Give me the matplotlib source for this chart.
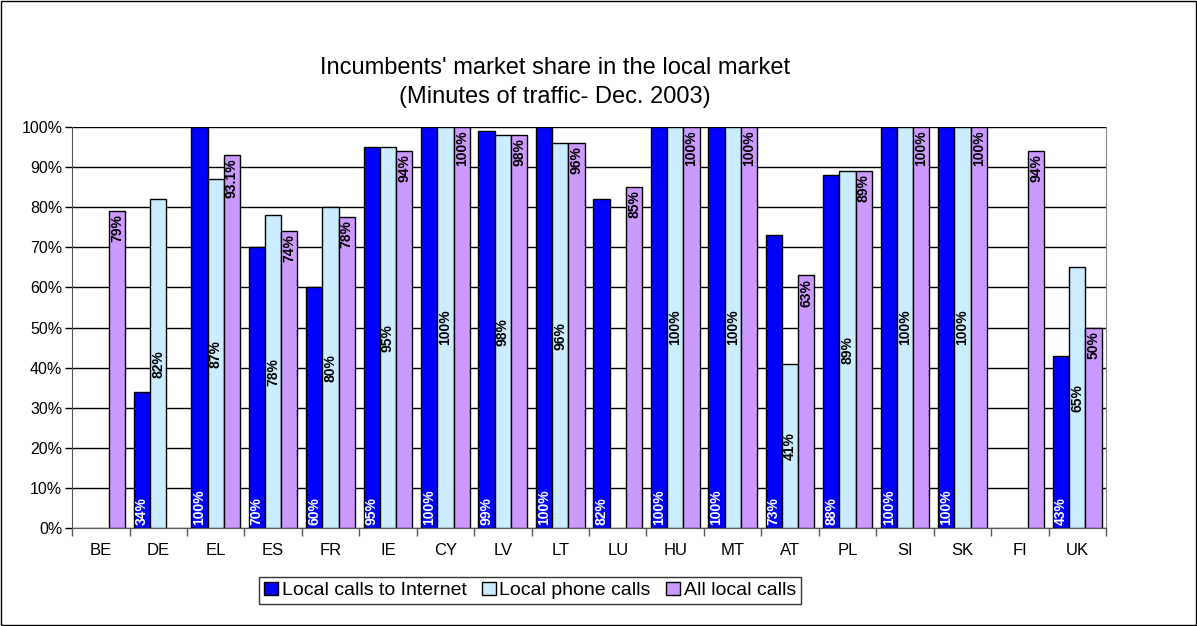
import numpy as np
import matplotlib
matplotlib.use("Agg")
import matplotlib.pyplot as plt
from matplotlib.patches import Rectangle

plt.rcParams['font.family'] = ['Liberation Sans', 'DejaVu Sans']

# Data (percent); None = no data
countries = ["BE", "DE", "EL", "ES", "FR", "IE", "CY", "LV", "LT", "LU",
             "HU", "MT", "AT", "PL", "SI", "SK", "FI", "UK"]
internet = [None, 34, 100, 70, 60, 95, 100, 99, 100, 82,
            100, 100, 73, 88, 100, 100, None, 43]
phone = [None, 82, 87, 78, 80, 95, 100, 98, 96, None,
         100, 100, 41, 89, 100, 100, None, 65]
all_calls = [79, None, 93.1, 74, 77.5, 94, 100, 98, 96, 85,
             100, 100, 63, 89, 100, 100, 94, 50]
all_labels = ["79%", "", "93.1%", "74%", "78%", "94%", "100%", "98%", "96%", "85%",
              "100%", "100%", "63%", "89%", "100%", "100%", "94%", "50%"]

series_names = ["Local calls to Internet", "Local phone calls", "All local calls"]
colors = ["#0000FF", "#CCECFF", "#CC99FF"]

fig = plt.figure(figsize=(11.97, 6.26), dpi=100)
fig.patches.append(Rectangle((0.001, 0.001), 0.998, 0.997, transform=fig.transFigure,
                             fill=False, edgecolor="black", linewidth=1.0))
ax = fig.add_axes([0.0602, 0.1565, 0.8638, 0.6405])

x = np.arange(len(countries))
w = 0.283
offsets = [-w, 0, w]

for s, (vals, col, name) in enumerate(zip([internet, phone, all_calls], colors, series_names)):
    xs = [xi + offsets[s] for xi, v in zip(x, vals) if v is not None]
    hs = [v for v in vals if v is not None]
    ax.bar(xs, hs, width=w, color=col, edgecolor="black", linewidth=1.0,
           label=name, zorder=3)

# value labels
lbl_fs = 10
for i in range(len(countries)):
    if internet[i] is not None:
        ax.text(x[i] - w, 0.8, f"{internet[i]:.0f}%", rotation=90, ha="center", va="bottom",
                color="white", fontsize=lbl_fs, fontweight="bold", zorder=4)
    if phone[i] is not None:
        ax.text(x[i], phone[i] / 2, f"{phone[i]:.0f}%", rotation=90, ha="center", va="center",
                color="black", fontsize=lbl_fs, fontweight="bold", zorder=4)
    if all_calls[i] is not None:
        ax.text(x[i] + w, all_calls[i] - 0.8, all_labels[i], rotation=90, ha="center", va="top",
                color="black", fontsize=lbl_fs, fontweight="bold", zorder=4)

ax.set_xlim(-0.5, len(countries) - 0.5)
ax.set_ylim(0, 100)
ax.set_yticks(np.arange(0, 101, 10))
ax.set_yticklabels([f"{t}%" for t in range(0, 101, 10)], fontsize=11.5)
ax.yaxis.grid(True, color="black", linewidth=1.0, zorder=0)
ax.set_axisbelow(True)

ax.set_xticks(x)
ax.set_xticklabels(countries, fontsize=12)
ax.tick_params(axis="x", length=0, pad=11)
ax.set_xticks(np.arange(-0.5, len(countries), 1), minor=True)
ax.tick_params(axis="x", which="minor", length=6, width=1, color="#555555")
ax.tick_params(axis="y", length=5, width=1, pad=2)

ax.spines["top"].set_visible(False)
ax.spines["right"].set_color("#888888")
ax.spines["left"].set_color("#555555")
ax.spines["bottom"].set_color("#555555")

fig.text(0.4636, 0.868, "Incumbents' market share in the local market\n(Minutes of traffic- Dec. 2003)",
         ha="center", va="center", fontsize=17, linespacing=1.45)

leg = ax.legend(loc="upper center", bbox_to_anchor=(0.443, -0.122), ncol=3,
                prop={"size": 14},
                frameon=True, fancybox=False, edgecolor="black", handlelength=0.7,
                handleheight=0.7, handletextpad=0.2, columnspacing=0.8, borderpad=0.25,
                borderaxespad=0)
leg.get_frame().set_linewidth(1.0)

fig.savefig("out.png", dpi=100)
